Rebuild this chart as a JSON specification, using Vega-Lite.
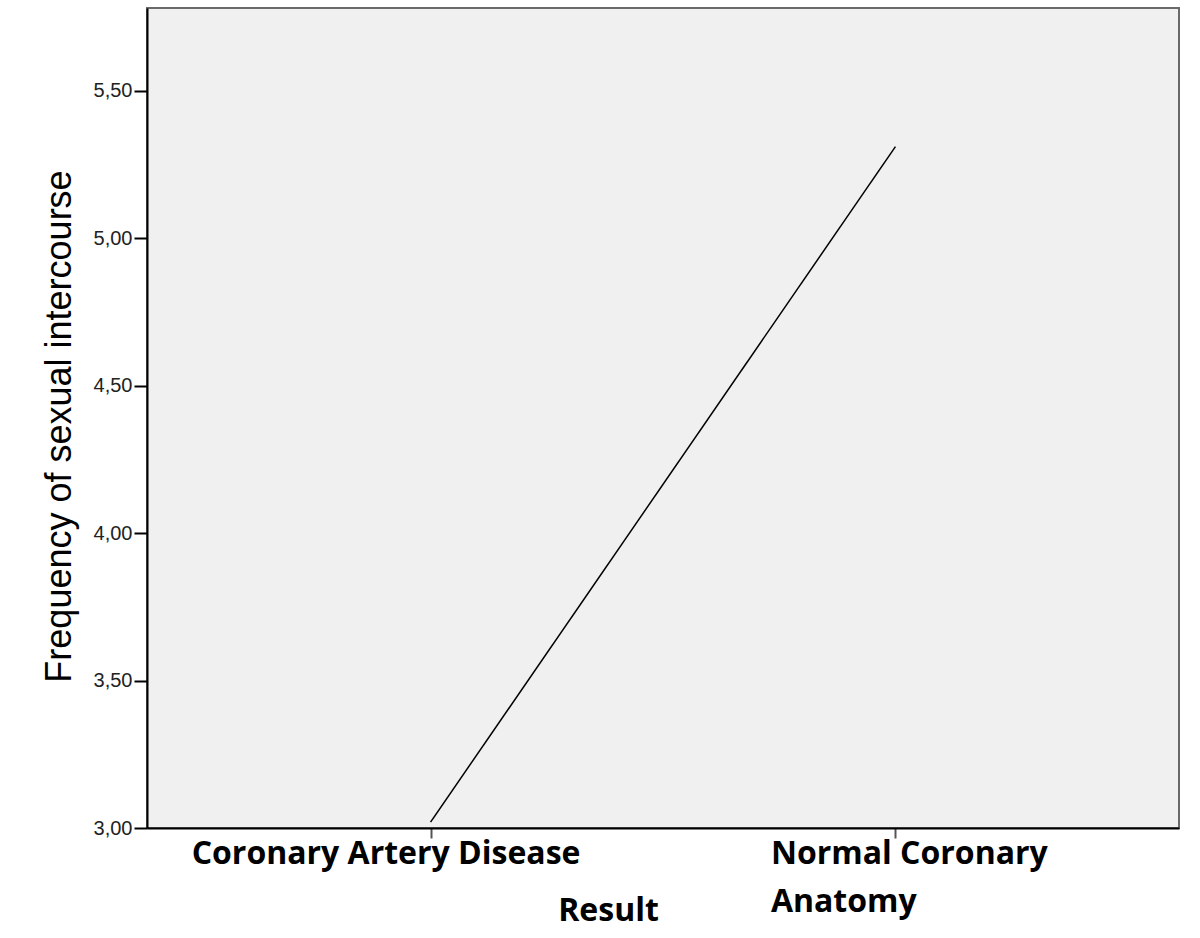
{
  "$schema": "https://vega.github.io/schema/vega-lite/v6.json",
  "width": 1032,
  "height": 820,
  "autosize": "none",
  "padding": {"left": 147, "top": 8, "right": 21, "bottom": 110},
  "background": "white",
  "config": {
    "view": {"fill": "#f0f0f0", "stroke": "#6a6a6a", "strokeWidth": 2}
  },
  "data": {
    "values": [
      {"Result": "Coronary Artery Disease", "Frequency": 3.02},
      {"Result": "Normal Coronary Anatomy", "Frequency": 5.31}
    ]
  },
  "mark": {"type": "line", "color": "black", "strokeWidth": 1.5},
  "encoding": {
    "x": {
      "field": "Result",
      "type": "nominal",
      "sort": null,
      "scale": {"type": "point", "padding": 0.61},
      "axis": {
        "title": "Result",
        "titleFont": "Open Sans",
        "titleFontWeight": "bold",
        "titleFontSize": 32,
        "titleColor": "black",
        "titleX": 461,
        "titleY": 82,
        "titleBaseline": "middle",
        "titleAlign": "center",
        "domainColor": "black",
        "domainWidth": 2,
        "tickColor": "#555",
        "tickSize": 10,
        "tickWidth": 2,
        "labelAngle": 0,
        "labelFont": "Open Sans",
        "labelFontWeight": "bold",
        "labelFontSize": 32,
        "labelColor": "black",
        "labelBaseline": "alphabetic",
        "labelPadding": 25,
        "labelLineHeight": 48,
        "labelAlign": {"condition": {"test": "datum.value == 'Normal Coronary Anatomy'", "value": "left"}, "value": "center"},
        "labelOffset": {"condition": {"test": "datum.value == 'Normal Coronary Anatomy'", "value": -125}, "value": -45},
        "labelExpr": "datum.value == 'Normal Coronary Anatomy' ? ['Normal Coronary', 'Anatomy'] : datum.value",
        "labelLimit": 0,
        "labelOverlap": false
      }
    },
    "y": {
      "field": "Frequency",
      "type": "quantitative",
      "scale": {"domain": [3, 5.78], "nice": false, "zero": false},
      "axis": {
        "title": "Frequency of sexual intercourse",
        "titleFont": "Liberation Sans",
        "titleFontWeight": "normal",
        "titleFontSize": 36,
        "titleColor": "black",
        "titleAngle": -90,
        "titleX": -88,
        "titleY": 418,
        "titleAlign": "center",
        "titleBaseline": "middle",
        "values": [3, 3.5, 4, 4.5, 5, 5.5],
        "labelExpr": "replace(format(datum.value, '.2f'), '.', ',')",
        "labelFont": "Liberation Sans",
        "labelFontSize": 20,
        "labelColor": "#222",
        "labelPadding": 2,
        "tickSize": 13,
        "tickWidth": 2,
        "tickColor": "black",
        "domainColor": "black",
        "domainWidth": 2,
        "grid": false
      }
    }
  }
}
